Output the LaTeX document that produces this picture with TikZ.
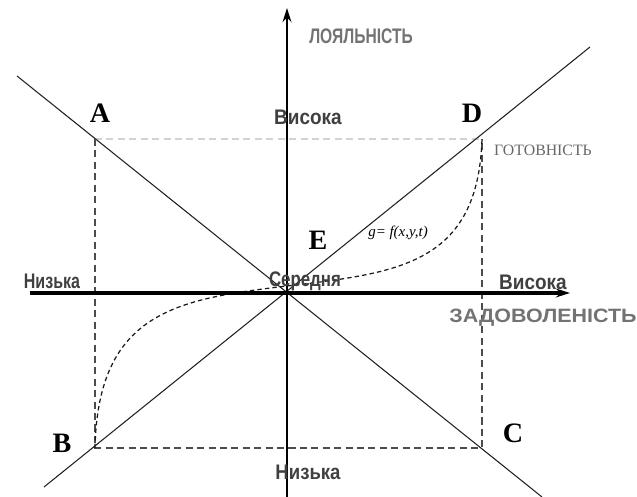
\documentclass[tikz,border=0pt]{standalone}
\usepackage{fontspec}
\usepackage{graphicx}
\setmainfont{Liberation Serif}
\setsansfont{Liberation Sans}
\usetikzlibrary{arrows.meta}
\newcommand{\cond}[2]{\scalebox{#1}[1]{#2}}

\begin{document}
\begin{tikzpicture}[x=0.02cm, y=0.02cm,
    axis/.style={-{Stealth[length=8pt,width=5pt]}, black},
    diag/.style={gray!25!black, line width=0.6pt},
    frame/.style={gray!60!black, line width=0.8pt, dash pattern=on 4pt off 2.5pt},
    corner/.style={font=\fontsize{16}{16}\selectfont\bfseries},
    lvl/.style={font=\sffamily\bfseries\fontsize{12}{12}\selectfont, text=black!75, inner sep=0pt},
    ttl/.style={font=\sffamily\bfseries\fontsize{12}{12}\selectfont, text=black!55, inner sep=0pt}]
  \useasboundingbox (0,0) rectangle (637,497);
  % центр і кути прямокутника
  \coordinate (O) at (287,204);
  \coordinate (A) at (95,358);
  \coordinate (B) at (95,49);
  \coordinate (C) at (482,49);
  \coordinate (D) at (482,358);
  % кінці діагоналей
  \coordinate (d1) at (44,10);
  \coordinate (d2) at (590,450);
  \coordinate (d3) at (17,421);
  \coordinate (d4) at (542,0);
  % кінці осей
  \coordinate (xl) at (30,204);
  \coordinate (xr) at (570,204);
  \coordinate (yb) at (287,0);
  \coordinate (yt) at (287,489);
  % прямокутник
  \draw[frame] (A) -- (B) -- (C) -- (D);
  \draw[frame, gray!35] (A) -- (D);
  % діагоналі
  \draw[diag] (d1) -- (d2);
  \draw[diag] (d3) -- (d4);
  % крива g
  \draw[gray!20!black, line width=0.7pt, dash pattern=on 2.5pt off 1.8pt]
    (B) .. controls (98,185) and (177,198) .. (287,211)
        .. controls (397,224) and (478,232) .. (D);
  % осі
  \draw[axis, line width=2.8pt] (xl) -- (xr);
  \draw[axis, line width=1.7pt] (yb) -- (yt);
  % підписи
  \node[corner] (lA) at (100,384) {A};
  \node[corner] (lB) at (62,54) {B};
  \node[corner] (lC) at (513,64) {C};
  \node[corner] (lD) at (472,384) {D};
  \node[corner] (lE) at (318,257) {E};
  \node[lvl] (hiY) at (308,380) {\cond{0.9}{Висока}};
  \node[lvl] (loY) at (308,25) {\cond{0.88}{Низька}};
  \node[lvl] (loX) at (52,216) {\cond{0.76}{Низька}};
  \node[lvl] (hiX) at (533,215) {\cond{0.9}{Висока}};
  \node[lvl] (mid) at (305,216) {\cond{0.8}{Середня}};
  \node[ttl] (loyal) at (361,461) {\cond{0.74}{ЛОЯЛЬНІСТЬ}};
  \node[ttl, font=\sffamily\bfseries\fontsize{11}{11}\selectfont] (satisf) at (543,179) {\cond{1.11}{ЗАДОВОЛЕНІСТЬ}};
  \node[font=\fontsize{9}{9}\selectfont, text=black!60] (ready) at (543,347) {ГОТОВНІСТЬ};
  \node[font=\fontsize{8.5}{8.5}\selectfont\itshape] (fn) at (398,264) {g= f(x,y,t)};
\end{tikzpicture}
\end{document}
